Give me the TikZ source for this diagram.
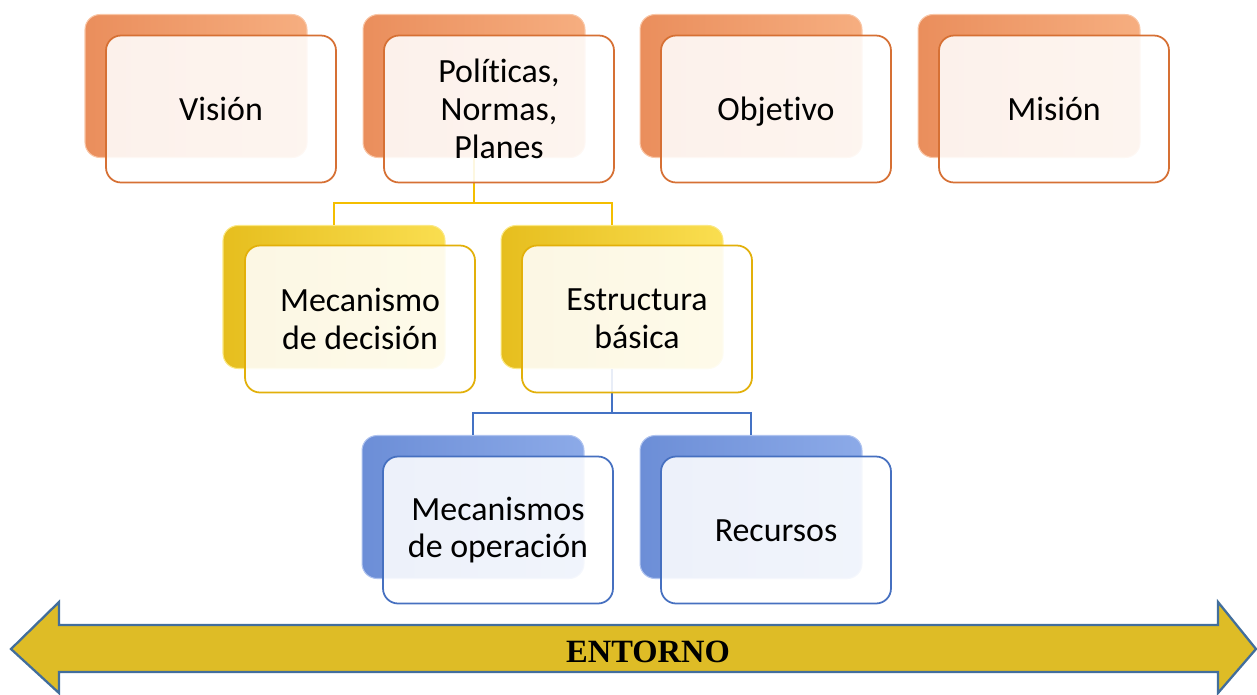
\documentclass[tikz,border=0pt]{standalone}
\usepackage{fontspec}
\setmainfont{Carlito}[Ligatures=NoCommon]
\newfontfamily\tnr{Liberation Serif}
\definecolor{oDark}{RGB}{234,142,92}
\definecolor{oLight}{RGB}{246,174,128}
\definecolor{oLine}{RGB}{214,112,52}
\definecolor{yDark}{RGB}{230,190,30}
\definecolor{yLight}{RGB}{250,222,80}
\definecolor{yLine}{RGB}{226,176,10}
\definecolor{bDark}{RGB}{108,142,215}
\definecolor{bLight}{RGB}{140,170,232}
\definecolor{bLine}{RGB}{70,112,192}
\definecolor{connY}{RGB}{244,190,0}
\definecolor{connB}{RGB}{68,114,196}
\definecolor{arrFill}{RGB}{222,188,38}
\definecolor{arrLine}{RGB}{66,110,156}
\newcommand{\eqline}{\vphantom{Ój}}
\tikzset{
  backbox/.style={rounded corners=0.3cm, minimum width=4.44cm, minimum height=2.86cm, inner sep=0pt, draw=#1Light!70!white, line width=0.6pt, left color=#1Dark, right color=#1Light},
  frontbox/.style={rounded corners=0.3cm, minimum width=4.6cm, minimum height=2.94cm, inner sep=0pt, draw=#1Line, line width=1pt, fill=white, fill opacity=0.88, text opacity=1, align=center, font=\fontsize{19.3}{21.5}\selectfont, text=black},
  connector/.style={draw=#1, line width=1.3pt},
}
\begin{document}
\begin{tikzpicture}[x=0.02cm,y=-0.02cm]
\useasboundingbox (0,0) rectangle (1257,694);
% back boxes
\node[backbox=o] (visB) at (196,86) {};
\node[backbox=o] (polB) at (474,86) {};
\node[backbox=o] (objB) at (751,86) {};
\node[backbox=o] (misB) at (1029,86) {};
\node[backbox=y] (mecB) at (334,297) {};
\node[backbox=y] (estB) at (612,297) {};
\node[backbox=b] (mopB) at (473,507) {};
\node[backbox=b] (recB) at (751,507) {};
% connectors
\coordinate (yj) at (474,203);
\coordinate (bj) at (612,413);
\draw[connector=connY] (polB.south) -- (yj) -| (mecB.north);
\draw[connector=connY] (yj) -| (estB.north);
\draw[connector=connB] (estB.south) -- (bj) -| (mopB.north);
\draw[connector=connB] (bj) -| (recB.north);
% front boxes
\node[frontbox=o] (vis) at (221,109) {\eqline Visión};
\node[frontbox=o] (pol) at (499,109) {Políticas,\\Normas,\\Planes};
\node[frontbox=o] (obj) at (776,109) {\eqline Objetivo};
\node[frontbox=o] (mis) at (1054,109) {\eqline Misión};
\node[frontbox=y] (mec) at (360,319) {Mecanismo\\de decisión};
\node[frontbox=y] (est) at (637,319) {Estructura\\básica};
\node[frontbox=b] (mop) at (498,530) {Mecanismos\\de operación};
\node[frontbox=b] (rec) at (776,530) {\eqline Recursos};
% arrow
\coordinate (aL) at (11,649);
\coordinate (aR) at (1256,649);
\draw[fill=arrFill, draw=arrLine, line width=1.3pt, line join=miter]
  (aL) -- (59,602) -- (59,625) -- (1218,625) -- (1218,602) -- (aR)
  -- (1218,693) -- (1218,672) -- (59,672) -- (59,693) -- cycle;
\node[font=\tnr\bfseries\fontsize{18.5}{21}\selectfont] (ent) at (648,652) {ENTORNO};
\end{tikzpicture}
\end{document}
